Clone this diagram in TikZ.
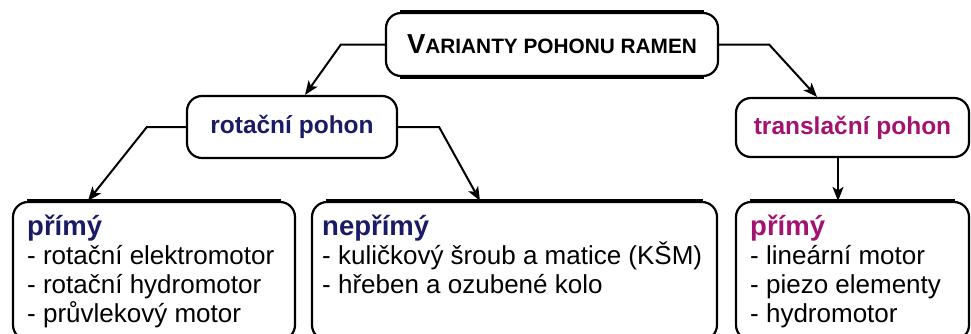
\documentclass[tikz,border=0pt]{standalone}
\usepackage{fontspec}
\setmainfont{Liberation Sans}
\usetikzlibrary{arrows.meta}
\definecolor{navy}{HTML}{1A1A66}
\definecolor{magen}{HTML}{A3126F}
\tikzset{
  box/.style={draw=black, line width=2.2pt, rounded corners=15pt, inner sep=0pt},
  arr/.style={line width=2pt, -{Stealth[length=14pt,width=11pt,inset=3.5pt]}},
  heavy/.style={line width=3.2pt},
  headtxt/.style={font=\bfseries\fontsize{24.5}{28}\selectfont},
  subhead/.style={anchor=base west, inner sep=0pt, font=\bfseries\fontsize{27.5}{30}\selectfont},
  item/.style={anchor=base west, inner sep=0pt, font=\fontsize{26}{29}\selectfont, text=black}
}
\begin{document}
\begin{tikzpicture}[x=1pt,y=-1pt]
\useasboundingbox (0,0) rectangle (971,333);
\clip (0,0) rectangle (971,333);
% boxes
\node[box, minimum width=332pt, minimum height=63pt] (top) at (552,44.5)
  {\bfseries{\fontsize{27.5}{30}\selectfont V}{\fontsize{20.8}{24}\selectfont ARIANTY POHONU RAMEN}};
\node[box, minimum width=210pt, minimum height=62pt, headtxt, text=navy] (rot) at (292,127) {rotační pohon};
\node[box, minimum width=233pt, minimum height=59pt, headtxt, text=magen] (trans) at (852.5,127.5) {translační pohon};
\node[box, minimum width=282pt, minimum height=138pt] (lb) at (154,271) {};
\node[box, minimum width=405pt, minimum height=138pt] (mb) at (514.5,271) {};
\node[box, minimum width=233pt, minimum height=138pt] (rb) at (852.5,271) {};
% heavier horizontal edges
\draw[heavy] ([xshift=15pt]top.north west) -- ([xshift=-15pt]top.north east);
\draw[heavy] ([xshift=15pt]top.south west) -- ([xshift=-15pt]top.south east);
\draw[heavy] ([xshift=15pt]lb.north west) -- ([xshift=-15pt]lb.north east);
\draw[heavy] ([xshift=15pt]mb.north west) -- ([xshift=-15pt]mb.north east);
\draw[heavy] ([xshift=15pt]rb.north west) -- ([xshift=-15pt]rb.north east);
% connectors
\draw[arr] (top.west) -- ++(-44,0) -- ([xshift=13pt]rot.north);
\draw[arr] (top.east) -- ++(50,0) -- ([xshift=-35.5pt]trans.north);
\draw[arr] (rot.west) -- ++(-39,0) -- ([xshift=-66pt]lb.north);
\draw[arr] (rot.east) -- ++(41,0) -- ([xshift=-34.5pt]mb.north);
\draw[arr] ([xshift=-14.5pt]trans.south) -- ([xshift=-14.5pt]rb.north);
% texts left
\node[subhead, text=navy] (l0) at (27,235) {přímý};
\node[item] (l1) at (27,264) {- rotační elektromotor};
\node[item] (l2) at (27,293) {- rotační hydromotor};
\node[item] (l3) at (27,322) {- průvlekový motor};
% texts middle
\node[subhead, text=navy] (m0) at (322,235) {nepřímý};
\node[item] (m1) at (322,264) {- kuličkový šroub a matice (KŠM)};
\node[item] (m2) at (322,293) {- hřeben a ozubené kolo};
% texts right
\node[subhead, text=magen] (r0) at (750,235) {přímý};
\node[item] (r1) at (750,264) {- lineární motor};
\node[item] (r2) at (750,293) {- piezo elementy};
\node[item] (r3) at (750,322) {- hydromotor};
\end{tikzpicture}
\end{document}
